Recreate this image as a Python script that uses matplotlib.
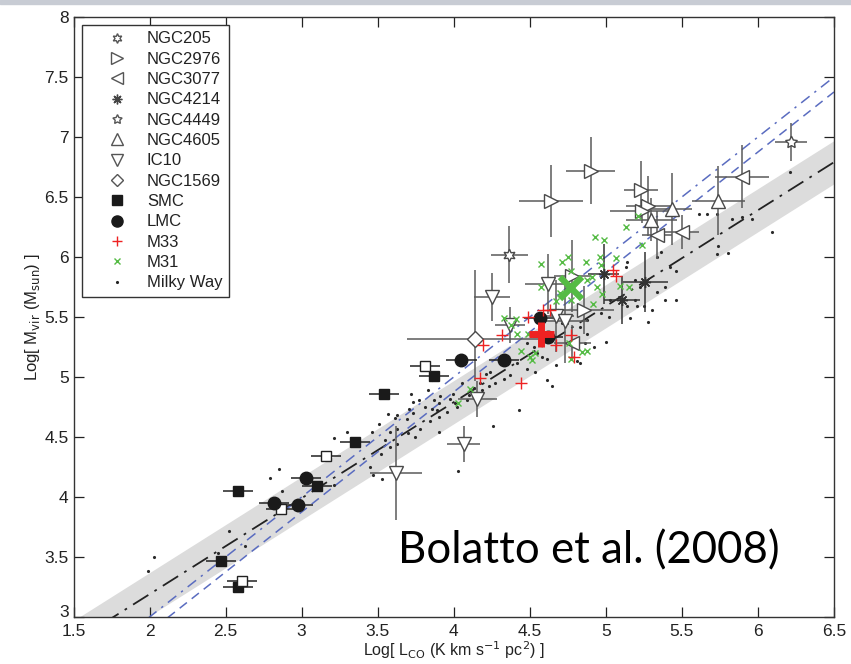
import matplotlib
matplotlib.use("Agg")
import matplotlib.pyplot as plt
import matplotlib.transforms as mtransforms
from matplotlib.lines import Line2D
import numpy as np

plt.rcParams['font.family'] = ['Liberation Sans', 'DejaVu Sans']

# fit line (black) and scatter band, plus the two blue reference lines
fit_slope = 0.8
fit_icpt = 1.59
band_half = 0.18
blue_slope = 1.0
blue_dashdot_icpt = 1.0
blue_dash_icpt = 0.875

# NGC205 (6-point star)
ngc205_x = [4.365]
ngc205_y = [6.02]
ngc205_xe = [0.12]
ngc205_ye = [0.24]

# NGC2976 (right triangle)
ngc2976_x = [4.64, 4.90, 5.23, 5.28, 5.24, 4.78, 4.855]
ngc2976_y = [6.47, 6.72, 6.56, 6.425, 6.38, 5.84, 5.56]
ngc2976_xe = [0.21, 0.16, 0.11, 0.15, 0.21, 0.12, 0.20]
ngc2976_ye = [0.30, 0.28, 0.24, 0.25, 0.10, 0.30, 0.20]

# NGC3077 (left triangle)
ngc3077_x = [5.895, 5.50, 5.335, 4.78]
ngc3077_y = [6.67, 6.21, 6.18, 5.28]
ngc3077_xe = [0.175, 0.11, 0.10, 0.12]
ngc3077_ye = [0.26, 0.14, 0.20, 0.15]

# NGC4214 (asterisk)
ngc4214_x = [5.26, 5.105, 4.985]
ngc4214_y = [5.79, 5.64, 5.86]
ngc4214_xe = [0.15, 0.12, 0.10]
ngc4214_ye = [0.25, 0.20, 0.25]

# NGC4449 (5-point star)
ngc4449_x = [6.22]
ngc4449_y = [6.96]
ngc4449_xe = [0.105]
ngc4449_ye = [0.16]

# NGC4605 (up triangle)
ngc4605_x = [5.435, 5.74, 5.30]
ngc4605_y = [6.40, 6.47, 6.31]
ngc4605_xe = [0.13, 0.175, 0.17]
ngc4605_ye = [0.30, 0.29, 0.18]

# IC10 (down triangle)
ic10_x = [3.62, 4.065, 4.155, 4.25, 4.62, 4.37, 4.67, 4.73]
ic10_y = [4.20, 4.44, 4.82, 5.67, 5.775, 5.43, 5.51, 5.47]
ic10_xe = [0.17, 0.11, 0.13, 0.12, 0.15, 0.10, 0.12, 0.15]
ic10_ye = [0.39, 0.15, 0.15, 0.20, 0.25, 0.15, 0.30, 0.35]

# NGC1569 (diamond), asymmetric y error
ngc1569_x = [4.14]
ngc1569_y = [5.32]
ngc1569_xe = [0.45]
ngc1569_ye_lo = [0.35]
ngc1569_ye_hi = [0.57]

# SMC filled / open squares
smc_x = [2.58, 2.47, 2.58, 3.35, 3.10, 3.54, 3.87]
smc_y = [4.05, 3.47, 3.25, 4.455, 4.09, 4.86, 5.01]
smc_open_x = [3.16, 2.865, 2.607, 3.81]
smc_open_y = [4.34, 3.90, 3.30, 5.09]
smc_xe = 0.1

# LMC filled circles
lmc_x = [3.03, 2.82, 2.975, 4.05, 4.33, 4.565, 4.62]
lmc_y = [4.16, 3.95, 3.93, 5.14, 5.14, 5.49, 5.33]
lmc_xe = 0.1

# M33 red pluses (+ one large average point)
m33_x = [4.19, 4.17, 4.44, 4.32, 4.49, 4.59, 4.635, 4.67, 4.77, 4.79, 5.05, 5.07]
m33_y = [5.27, 4.99, 4.95, 5.35, 5.50, 5.56, 5.56, 5.27, 5.35, 5.17, 5.89, 5.84]
m33_mean = (4.575, 5.36)

# M31 green crosses (+ one large average point)
m31_x = [4.93, 4.99, 4.575, 4.71, 4.75, 4.87, 4.96, 5.07, 5.24, 4.77, 4.97, 4.575,
         4.875, 4.94, 4.70, 4.975, 5.09, 5.15, 4.915, 4.77, 4.67, 4.33, 4.41, 4.375,
         4.415, 4.485, 4.76, 4.84, 4.875, 4.77, 4.44, 4.50, 4.535, 4.515, 4.11, 4.025,
         5.135, 5.21, 4.91]
m31_y = [6.165, 6.14, 5.94, 5.955, 6.0, 5.955, 6.0, 5.99, 6.10, 5.885, 5.93, 5.75,
         5.81, 5.75, 5.70, 5.69, 5.76, 5.75, 5.61, 5.64, 5.63, 5.49, 5.48, 5.43,
         5.36, 5.36, 5.28, 5.21, 5.22, 5.15, 5.22, 5.17, 5.20, 5.14, 4.90, 4.78,
         6.25, 6.34, 5.83]
m31_mean = (4.77, 5.74)

# Milky Way clouds
mw_x = [1.99, 2.03, 2.45, 2.52, 2.63, 2.79, 2.85, 2.87, 3.21, 3.21, 3.30, 3.45, 3.46,
        3.47, 3.51, 3.52, 3.53, 3.55, 3.565, 3.58, 3.58, 3.615, 3.625, 3.63, 3.63,
        3.69, 3.70, 3.705, 3.72, 3.735, 3.735, 3.745, 3.77, 3.78, 3.81, 3.83, 3.845,
        3.855, 3.86, 3.87, 3.89, 3.90, 3.90, 3.90, 3.91, 3.955, 3.975, 3.995, 4.01,
        4.02, 4.03, 4.055, 4.09, 4.10, 4.13, 4.15, 4.175, 4.185, 4.21, 4.23, 4.24,
        4.26, 4.27, 4.33, 4.37, 4.415, 4.43, 4.48, 4.48, 4.525, 4.535, 4.545, 4.58,
        4.61, 4.61, 4.645, 4.67, 4.71, 4.745, 4.81, 4.83, 4.83, 4.865, 4.875, 4.875,
        4.92, 4.965, 5.0, 5.02, 5.03, 5.13, 5.14, 5.14, 5.16, 5.19, 5.19, 5.205,
        5.225, 5.25, 5.28, 5.305, 5.335, 5.335, 5.36, 5.39, 5.39, 5.425, 5.46, 5.46,
        5.61, 5.665, 5.73, 5.73, 5.74, 5.80, 5.83, 5.895, 5.96, 6.09, 6.21]
mw_y = [3.38, 3.50, 3.53, 3.72, 3.59, 4.16, 4.23, 4.05, 4.10, 4.49, 4.54, 4.25, 4.54,
        4.18, 4.61, 4.36, 4.15, 4.475, 4.69, 4.42, 4.54, 4.66, 4.57, 4.68, 4.44,
        4.65, 4.53, 4.73, 4.86, 4.70, 4.79, 4.50, 4.81, 4.57, 4.75, 4.89, 4.63,
        4.975, 4.73, 4.81, 4.725, 4.54, 4.67, 4.78, 4.84, 4.71, 4.82, 4.86, 4.78,
        4.75, 4.22, 4.95, 4.81, 4.85, 4.905, 4.85, 4.95, 4.89, 5.025, 4.925, 5.045,
        4.59, 4.95, 4.98, 5.02, 5.115, 4.725, 5.07, 5.28, 5.25, 5.045, 5.20, 5.17,
        4.975, 5.15, 4.925, 5.10, 5.45, 5.45, 5.13, 5.115, 5.42, 5.28, 5.36, 5.475,
        5.25, 5.53, 5.29, 5.50, 5.64, 5.92, 5.59, 5.96, 5.49, 5.64, 5.81, 5.59,
        5.75, 5.59, 5.46, 5.56, 5.71, 6.0, 6.045, 5.64, 5.75, 5.92, 5.64, 5.88,
        6.36, 6.36, 6.025, 6.36, 6.09, 6.035, 6.32, 6.335, 6.32, 6.21, 6.71]

xticks = [1.5, 2, 2.5, 3, 3.5, 4, 4.5, 5, 5.5, 6, 6.5]
yticks = [3, 3.5, 4, 4.5, 5, 5.5, 6, 6.5, 7, 7.5, 8]

fig = plt.figure(figsize=(8.51, 6.64), dpi=100)
ax = fig.add_axes([0.0864, 0.0708, 0.8936, 0.9036])

# thin slide strip at the very top
fig.patches.append(plt.Rectangle((0, 0.994), 1, 0.006, transform=fig.transFigure,
                                 color='#c8ccd4', zorder=0))

# band and lines
xx = np.array([1.5, 6.5])
fit = fit_slope * xx + fit_icpt
ax.fill_between(xx, fit - band_half, fit + band_half, color='#dcdcdc', lw=0, zorder=1)
ax.plot(xx, fit, color='#222222', lw=1.3, dashes=(10, 4, 1.5, 4), zorder=2)
ax.plot(xx, blue_slope * xx + blue_dashdot_icpt, color='#5a6cc0', lw=1.1,
        dashes=(7, 4, 1.5, 4), zorder=2)
ax.plot(xx, blue_slope * xx + blue_dash_icpt, color='#5a6cc0', lw=1.1,
        dashes=(6, 4), zorder=2)

# Milky Way
ax.plot(mw_x, mw_y, '.', color='#2a2a2a', ms=2.5, zorder=3, ls='none')

edge = '#4a4a4a'
ecol = '#5a5a5a'


def ebar(x, y, xe, ye, marker, ms, mfc='white', mec=edge, mew=1.0, ecolor=ecol):
    ax.errorbar(x, y, xerr=xe, yerr=ye, fmt='none', ecolor=ecolor, elinewidth=1.1,
                capsize=0, zorder=4)
    ax.plot(x, y, ls='none', marker=marker, ms=ms, mfc=mfc, mec=mec, mew=mew, zorder=5)


ebar(ngc2976_x, ngc2976_y, ngc2976_xe, ngc2976_ye, '>', 10)
ebar(ngc3077_x, ngc3077_y, ngc3077_xe, ngc3077_ye, '<', 10)
ebar(ngc4605_x, ngc4605_y, ngc4605_xe, ngc4605_ye, '^', 10)
ebar(ic10_x, ic10_y, ic10_xe, ic10_ye, 'v', 10)
ebar(ngc205_x, ngc205_y, ngc205_xe, ngc205_ye, (6, 1, 0), 9)
ebar(ngc4449_x, ngc4449_y, ngc4449_xe, ngc4449_ye, (5, 1, 0), 9)
ebar(ngc4214_x, ngc4214_y, ngc4214_xe, ngc4214_ye, (8, 2, 0), 8, mec='#333333',
     ecolor='#333333')
ebar(ngc1569_x, ngc1569_y, [ngc1569_xe], [ngc1569_ye_lo, ngc1569_ye_hi], 'D', 8.5)

# SMC / LMC
ax.errorbar(smc_x, smc_y, xerr=smc_xe, fmt='none', ecolor='#222222', elinewidth=1.1,
            capsize=0, zorder=4)
ax.plot(smc_x, smc_y, 's', ls='none', ms=7.5, color='#1a1a1a', zorder=5)
ax.errorbar(smc_open_x, smc_open_y, xerr=smc_xe, fmt='none', ecolor='#222222',
            elinewidth=1.1, capsize=0, zorder=4)
ax.plot(smc_open_x, smc_open_y, 's', ls='none', ms=7.5, mfc='white', mec='#222222',
        mew=1.0, zorder=5)
ax.errorbar(lmc_x, lmc_y, xerr=lmc_xe, fmt='none', ecolor='#222222', elinewidth=1.1,
            capsize=0, zorder=4)
ax.plot(lmc_x, lmc_y, 'o', ls='none', ms=9, color='#1a1a1a', zorder=5)

# M33 / M31
ax.plot(m31_x, m31_y, 'x', ls='none', ms=5, mew=1.0, color='#55bb44', zorder=6)
ax.plot(*m31_mean, 'x', ms=16, mew=4.5, color='#55bb44', zorder=6)
ax.plot(m33_x, m33_y, '+', ls='none', ms=8, mew=1.0, color='#ee2222', zorder=6)
ax.plot(*m33_mean, '+', ms=18, mew=5, color='#ee2222', zorder=6)

ax.set_xlim(1.5, 6.5)
ax.set_ylim(3, 8)
ax.set_xticks(xticks)
ax.set_yticks(yticks)
ax.set_xticklabels([f'{t:g}' for t in xticks])
ax.set_yticklabels([f'{t:g}' for t in yticks])
ax.tick_params(direction='in', top=True, right=True, length=7, width=0.9,
               labelsize=12.5, colors='#222222')
ax.tick_params(axis='x', pad=5)
ax.tick_params(axis='y', pad=3.5)
# lift the bottom "3" a little so it clears the "1.5" below it
lbl3 = ax.get_yticklabels()[0]
lbl3.set_transform(lbl3.get_transform() +
                   mtransforms.ScaledTranslation(0, 4 / 72, fig.dpi_scale_trans))
for s in ax.spines.values():
    s.set_linewidth(1.0)
    s.set_color('#333333')

ax.set_xlabel(r'Log[ L$_{\mathrm{CO}}$ (K km s$^{-1}$ pc$^{2}$) ]', fontsize=11.5,
              labelpad=0.5, color='#222222')
ax.set_ylabel(r'Log[ M$_{\mathrm{vir}}$ (M$_{\mathrm{sun}}$) ]', fontsize=12,
              labelpad=2, color='#222222')

# legend
handles = [
    Line2D([], [], ls='none', marker=(6, 1, 0), ms=7, mfc='white', mec='#555555'),
    Line2D([], [], ls='none', marker='>', ms=8, mfc='white', mec='#555555'),
    Line2D([], [], ls='none', marker='<', ms=8, mfc='white', mec='#555555'),
    Line2D([], [], ls='none', marker=(8, 2, 0), ms=7, mec='#444444'),
    Line2D([], [], ls='none', marker=(5, 1, 0), ms=7, mfc='white', mec='#555555'),
    Line2D([], [], ls='none', marker='^', ms=8, mfc='white', mec='#555555'),
    Line2D([], [], ls='none', marker='v', ms=8, mfc='white', mec='#555555'),
    Line2D([], [], ls='none', marker='D', ms=6.5, mfc='white', mec='#555555'),
    Line2D([], [], ls='none', marker='s', ms=7, color='#1a1a1a'),
    Line2D([], [], ls='none', marker='o', ms=8, color='#1a1a1a'),
    Line2D([], [], ls='none', marker='+', ms=7, color='#ee2222'),
    Line2D([], [], ls='none', marker='x', ms=4, color='#55bb44'),
    Line2D([], [], ls='none', marker='.', ms=2.5, color='#222222'),
]
labels = ['NGC205', 'NGC2976', 'NGC3077', 'NGC4214', 'NGC4449', 'NGC4605', 'IC10',
          'NGC1569', 'SMC', 'LMC', 'M33', 'M31', 'Milky Way']
leg = ax.legend(handles, labels, loc='upper left', bbox_to_anchor=(0.011, 0.987),
                borderaxespad=0, fontsize=12, handlelength=3.4, handletextpad=0.1,
                labelspacing=0.32, borderpad=0.4, fancybox=False, framealpha=1,
                edgecolor='#333333')
leg.get_frame().set_linewidth(1.0)
for t in leg.get_texts():
    t.set_color('#222222')
leg.set_zorder(10)

ax.text(3.635, 3.45, 'Bolatto et al. (2008)', fontsize=31.5, family=['Lato', 'DejaVu Sans'],
        color='black', va='baseline', ha='left', zorder=11)

fig.savefig('out.png', dpi=100)
